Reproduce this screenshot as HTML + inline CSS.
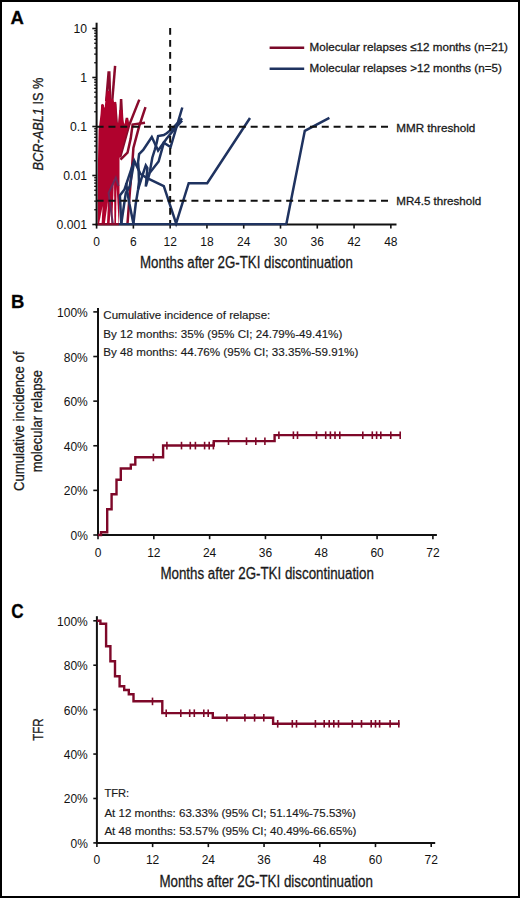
<!DOCTYPE html>
<html><head><meta charset="utf-8"><title>Figure</title>
<style>
html,body{margin:0;padding:0;background:#fff;width:520px;height:898px;overflow:hidden;}
svg{display:block;}
text{font-family:"Liberation Sans", sans-serif;stroke:#1a1a1a;stroke-width:0.3px;}
text.n{stroke:none;fill:#111;}
text.i{stroke-width:0.15px;}
</style></head><body>
<svg width="520" height="898" viewBox="0 0 520 898">
<rect x="0" y="0" width="520" height="898" fill="#fff"/>
<polyline points="139.30,99.60 128.90,125.80 120.10,157.50" fill="none" stroke="#8a0a2c" stroke-width="2.5" stroke-linejoin="miter" stroke-linecap="butt" />
<polyline points="145.00,122.70 132.60,124.60 130.70,138.60 127.50,152.70 120.50,159.70" fill="none" stroke="#8a0a2c" stroke-width="2.5" stroke-linejoin="miter" stroke-linecap="butt" />
<polyline points="145.50,107.10 139.20,126.20 133.40,148.00 132.20,165.00 130.00,190.00 127.50,223.50" fill="none" stroke="#8a0a2c" stroke-width="2.5" stroke-linejoin="miter" stroke-linecap="butt" />
<polyline points="100.80,150.00 102.60,104.50 104.20,125.00" fill="none" stroke="#8a0a2c" stroke-width="2.5" stroke-linejoin="miter" stroke-linecap="butt" />
<polyline points="106.20,101.00 108.60,72.60 109.30,72.60 110.20,101.00" fill="none" stroke="#8a0a2c" stroke-width="2.5" stroke-linejoin="miter" stroke-linecap="butt" />
<polyline points="111.50,110.00 115.10,65.80" fill="none" stroke="#8a0a2c" stroke-width="2.5" stroke-linejoin="miter" stroke-linecap="butt" />
<polyline points="113.20,135.00 115.00,102.20 116.80,125.00" fill="none" stroke="#8a0a2c" stroke-width="2.5" stroke-linejoin="miter" stroke-linecap="butt" />
<polyline points="118.60,155.00 121.10,99.00 122.40,125.00" fill="none" stroke="#8a0a2c" stroke-width="2.5" stroke-linejoin="miter" stroke-linecap="butt" />
<polyline points="123.50,140.00 126.90,118.00 128.40,127.00" fill="none" stroke="#8a0a2c" stroke-width="2.5" stroke-linejoin="miter" stroke-linecap="butt" />
<polygon points="97.7,224.5 97.8,185 98.0,160 98.6,130 99.6,122 100.5,115 101.2,105 102.4,103.8 103.6,105.5 104.6,108 105.6,99 106.6,91 109.9,91 110.8,99 113.0,99 114.2,102.5 115.2,101.6 116.3,104 116.8,121.5 118.0,123.5 119.3,110 122.6,110 123.2,120 124.3,124.5 126.0,119 127.2,118 128.2,120 128.6,125.5 119.9,157.0 119.5,158 119.5,200 119.0,224.5" fill="#b0022d"/>
<polygon points="99.2,223.2 101.6,223.2 102.6,206" fill="#fff"/>
<polygon points="104.9,223.2 107.0,223.2 108.0,201" fill="#fff"/>
<polygon points="109.6,223.2 111.4,223.2 111.0,205" fill="#fff"/>
<polygon points="112.2,223.2 114.4,223.2 114.0,179" fill="#fff"/>
<polygon points="116.0,223.2 118.6,223.2 116.6,186" fill="#fff"/>
<polyline points="112.80,223.50 108.60,193.00 115.80,177.70 118.50,186.00" fill="none" stroke="#6a2a5a" stroke-width="2.0" stroke-linejoin="miter" stroke-linecap="butt" />
<polyline points="121.30,223.50 119.90,195.50 124.50,189.50 134.20,160.60 140.50,174.00 146.70,177.90 163.80,186.20 176.10,223.40 188.70,183.20 207.20,183.20 250.00,118.00" fill="none" stroke="#1f3360" stroke-width="2.5" stroke-linejoin="miter" stroke-linecap="butt" />
<polyline points="121.30,223.50 125.80,193.00 129.70,186.50 134.20,161.50" fill="none" stroke="#1f3360" stroke-width="2.5" stroke-linejoin="miter" stroke-linecap="butt" />
<polyline points="133.40,223.50 135.70,204.00 138.10,189.40 139.00,181.70 138.60,169.50 138.10,162.10 139.10,154.00 143.20,150.00 151.80,137.00 158.10,150.50 166.70,138.50 176.30,126.90 182.10,120.70" fill="none" stroke="#1f3360" stroke-width="2.5" stroke-linejoin="miter" stroke-linecap="butt" />
<polyline points="133.40,223.50 129.40,203.80 127.00,190.00 126.20,183.00" fill="none" stroke="#1f3360" stroke-width="2.5" stroke-linejoin="miter" stroke-linecap="butt" />
<polyline points="138.10,189.40 142.90,174.00 145.80,165.40 147.40,168.00 145.80,186.50 149.60,173.10 158.60,161.50 163.80,142.80 170.60,147.10 182.30,107.50" fill="none" stroke="#1f3360" stroke-width="2.5" stroke-linejoin="miter" stroke-linecap="butt" />
<polyline points="149.60,173.10 152.30,157.70 154.70,150.00 156.60,143.30 158.10,136.10 163.80,135.10 166.70,133.20 171.10,129.80 182.10,118.30" fill="none" stroke="#1f3360" stroke-width="2.5" stroke-linejoin="miter" stroke-linecap="butt" />
<polyline points="286.30,224.20 304.80,130.80 329.40,117.80" fill="none" stroke="#1f3360" stroke-width="2.5" stroke-linejoin="miter" stroke-linecap="butt" />
<line x1="96.60" y1="126.85" x2="388.50" y2="126.85" stroke="#111" stroke-width="2" stroke-dasharray="7 4.85"/>
<line x1="96.60" y1="200.80" x2="388.50" y2="200.80" stroke="#111" stroke-width="2" stroke-dasharray="7 4.85"/>
<line x1="170.16" y1="28.00" x2="170.16" y2="224.50" stroke="#111" stroke-width="2" stroke-dasharray="6.8 5.2"/>
<line x1="96.60" y1="22.70" x2="96.60" y2="225.50" stroke="#111" stroke-width="2" />
<line x1="95.60" y1="224.50" x2="396.50" y2="224.50" stroke="#111" stroke-width="2" />
<line x1="92.30" y1="224.50" x2="96.60" y2="224.50" stroke="#111" stroke-width="1.6" />
<line x1="94.20" y1="209.75" x2="96.60" y2="209.75" stroke="#111" stroke-width="1.3" />
<line x1="94.20" y1="201.12" x2="96.60" y2="201.12" stroke="#111" stroke-width="1.3" />
<line x1="94.20" y1="195.00" x2="96.60" y2="195.00" stroke="#111" stroke-width="1.3" />
<line x1="94.20" y1="190.25" x2="96.60" y2="190.25" stroke="#111" stroke-width="1.3" />
<line x1="94.20" y1="186.37" x2="96.60" y2="186.37" stroke="#111" stroke-width="1.3" />
<line x1="94.20" y1="183.09" x2="96.60" y2="183.09" stroke="#111" stroke-width="1.3" />
<line x1="94.20" y1="180.25" x2="96.60" y2="180.25" stroke="#111" stroke-width="1.3" />
<line x1="94.20" y1="177.74" x2="96.60" y2="177.74" stroke="#111" stroke-width="1.3" />
<line x1="92.30" y1="175.50" x2="96.60" y2="175.50" stroke="#111" stroke-width="1.6" />
<line x1="94.20" y1="160.75" x2="96.60" y2="160.75" stroke="#111" stroke-width="1.3" />
<line x1="94.20" y1="152.12" x2="96.60" y2="152.12" stroke="#111" stroke-width="1.3" />
<line x1="94.20" y1="146.00" x2="96.60" y2="146.00" stroke="#111" stroke-width="1.3" />
<line x1="94.20" y1="141.25" x2="96.60" y2="141.25" stroke="#111" stroke-width="1.3" />
<line x1="94.20" y1="137.37" x2="96.60" y2="137.37" stroke="#111" stroke-width="1.3" />
<line x1="94.20" y1="134.09" x2="96.60" y2="134.09" stroke="#111" stroke-width="1.3" />
<line x1="94.20" y1="131.25" x2="96.60" y2="131.25" stroke="#111" stroke-width="1.3" />
<line x1="94.20" y1="128.74" x2="96.60" y2="128.74" stroke="#111" stroke-width="1.3" />
<line x1="92.30" y1="126.50" x2="96.60" y2="126.50" stroke="#111" stroke-width="1.6" />
<line x1="94.20" y1="111.75" x2="96.60" y2="111.75" stroke="#111" stroke-width="1.3" />
<line x1="94.20" y1="103.12" x2="96.60" y2="103.12" stroke="#111" stroke-width="1.3" />
<line x1="94.20" y1="97.00" x2="96.60" y2="97.00" stroke="#111" stroke-width="1.3" />
<line x1="94.20" y1="92.25" x2="96.60" y2="92.25" stroke="#111" stroke-width="1.3" />
<line x1="94.20" y1="88.37" x2="96.60" y2="88.37" stroke="#111" stroke-width="1.3" />
<line x1="94.20" y1="85.09" x2="96.60" y2="85.09" stroke="#111" stroke-width="1.3" />
<line x1="94.20" y1="82.25" x2="96.60" y2="82.25" stroke="#111" stroke-width="1.3" />
<line x1="94.20" y1="79.74" x2="96.60" y2="79.74" stroke="#111" stroke-width="1.3" />
<line x1="92.30" y1="77.50" x2="96.60" y2="77.50" stroke="#111" stroke-width="1.6" />
<line x1="94.20" y1="62.75" x2="96.60" y2="62.75" stroke="#111" stroke-width="1.3" />
<line x1="94.20" y1="54.12" x2="96.60" y2="54.12" stroke="#111" stroke-width="1.3" />
<line x1="94.20" y1="48.00" x2="96.60" y2="48.00" stroke="#111" stroke-width="1.3" />
<line x1="94.20" y1="43.25" x2="96.60" y2="43.25" stroke="#111" stroke-width="1.3" />
<line x1="94.20" y1="39.37" x2="96.60" y2="39.37" stroke="#111" stroke-width="1.3" />
<line x1="94.20" y1="36.09" x2="96.60" y2="36.09" stroke="#111" stroke-width="1.3" />
<line x1="94.20" y1="33.25" x2="96.60" y2="33.25" stroke="#111" stroke-width="1.3" />
<line x1="94.20" y1="30.74" x2="96.60" y2="30.74" stroke="#111" stroke-width="1.3" />
<line x1="92.30" y1="28.50" x2="96.60" y2="28.50" stroke="#111" stroke-width="1.6" />
<text x="87.00" y="228.90" font-size="12.2" class="n" text-anchor="end" fill="#1a1a1a" >0.001</text>
<text x="87.00" y="179.90" font-size="12.2" class="n" text-anchor="end" fill="#1a1a1a" >0.01</text>
<text x="87.00" y="130.90" font-size="12.2" class="n" text-anchor="end" fill="#1a1a1a" >0.1</text>
<text x="87.00" y="81.90" font-size="12.2" class="n" text-anchor="end" fill="#1a1a1a" >1</text>
<text x="87.00" y="32.90" font-size="12.2" class="n" text-anchor="end" fill="#1a1a1a" >10</text>
<line x1="96.60" y1="224.50" x2="96.60" y2="228.60" stroke="#111" stroke-width="1.6" />
<text x="96.60" y="246.00" font-size="12" class="n" text-anchor="middle" fill="#1a1a1a" >0</text>
<line x1="133.38" y1="224.50" x2="133.38" y2="228.60" stroke="#111" stroke-width="1.6" />
<text x="133.38" y="246.00" font-size="12" class="n" text-anchor="middle" fill="#1a1a1a" >6</text>
<line x1="170.16" y1="224.50" x2="170.16" y2="228.60" stroke="#111" stroke-width="1.6" />
<text x="170.16" y="246.00" font-size="12" class="n" text-anchor="middle" fill="#1a1a1a" >12</text>
<line x1="206.94" y1="224.50" x2="206.94" y2="228.60" stroke="#111" stroke-width="1.6" />
<text x="206.94" y="246.00" font-size="12" class="n" text-anchor="middle" fill="#1a1a1a" >18</text>
<line x1="243.72" y1="224.50" x2="243.72" y2="228.60" stroke="#111" stroke-width="1.6" />
<text x="243.72" y="246.00" font-size="12" class="n" text-anchor="middle" fill="#1a1a1a" >24</text>
<line x1="280.50" y1="224.50" x2="280.50" y2="228.60" stroke="#111" stroke-width="1.6" />
<text x="280.50" y="246.00" font-size="12" class="n" text-anchor="middle" fill="#1a1a1a" >30</text>
<line x1="317.28" y1="224.50" x2="317.28" y2="228.60" stroke="#111" stroke-width="1.6" />
<text x="317.28" y="246.00" font-size="12" class="n" text-anchor="middle" fill="#1a1a1a" >36</text>
<line x1="354.06" y1="224.50" x2="354.06" y2="228.60" stroke="#111" stroke-width="1.6" />
<text x="354.06" y="246.00" font-size="12" class="n" text-anchor="middle" fill="#1a1a1a" >42</text>
<line x1="390.84" y1="224.50" x2="390.84" y2="228.60" stroke="#111" stroke-width="1.6" />
<text x="390.84" y="246.00" font-size="12" class="n" text-anchor="middle" fill="#1a1a1a" >48</text>
<text x="140.00" y="267.90" font-size="16" textLength="212.80" lengthAdjust="spacingAndGlyphs" fill="#1a1a1a" >Months after 2G-TKI discontinuation</text>
<text transform="translate(42.9,124) rotate(-90)" font-size="15.5" text-anchor="middle" fill="#1a1a1a" textLength="92.9" lengthAdjust="spacingAndGlyphs"><tspan font-style="italic">BCR-ABL1</tspan> IS %</text>
<text x="10.60" y="24.10" font-size="18.5" font-weight="bold" fill="#000" >A</text>
<line x1="269.60" y1="47.70" x2="304.20" y2="47.70" stroke="#7a0a29" stroke-width="2.4" />
<line x1="269.60" y1="68.70" x2="304.20" y2="68.70" stroke="#1f3360" stroke-width="2.4" />
<text x="309.50" y="51.30" font-size="11.5" textLength="198.50" lengthAdjust="spacingAndGlyphs" fill="#1a1a1a" >Molecular relapses ≤12 months (n=21)</text>
<text x="309.50" y="72.30" font-size="11.5" textLength="192.30" lengthAdjust="spacingAndGlyphs" fill="#1a1a1a" >Molecular relapses &gt;12 months (n=5)</text>
<text x="396.30" y="132.20" font-size="11.5" textLength="79.00" lengthAdjust="spacingAndGlyphs" fill="#1a1a1a" >MMR threshold</text>
<text x="396.30" y="205.20" font-size="11.5" textLength="84.90" lengthAdjust="spacingAndGlyphs" fill="#1a1a1a" >MR4.5 threshold</text>
<line x1="97.60" y1="224.20" x2="119.00" y2="224.20" stroke="#8a0a2c" stroke-width="2.3" />
<line x1="118.80" y1="224.20" x2="287.00" y2="224.20" stroke="#1f3360" stroke-width="2.3" />
<line x1="98.00" y1="308.00" x2="98.00" y2="536.00" stroke="#111" stroke-width="2" />
<line x1="97.00" y1="535.00" x2="436.90" y2="535.00" stroke="#111" stroke-width="2" />
<line x1="93.30" y1="535.00" x2="98.00" y2="535.00" stroke="#111" stroke-width="1.6" />
<text x="87.80" y="540.00" font-size="12" class="n" text-anchor="end" fill="#1a1a1a" >0%</text>
<line x1="93.30" y1="490.38" x2="98.00" y2="490.38" stroke="#111" stroke-width="1.6" />
<text x="87.80" y="495.38" font-size="12" class="n" text-anchor="end" fill="#1a1a1a" >20%</text>
<line x1="93.30" y1="445.76" x2="98.00" y2="445.76" stroke="#111" stroke-width="1.6" />
<text x="87.80" y="450.76" font-size="12" class="n" text-anchor="end" fill="#1a1a1a" >40%</text>
<line x1="93.30" y1="401.14" x2="98.00" y2="401.14" stroke="#111" stroke-width="1.6" />
<text x="87.80" y="406.14" font-size="12" class="n" text-anchor="end" fill="#1a1a1a" >60%</text>
<line x1="93.30" y1="356.52" x2="98.00" y2="356.52" stroke="#111" stroke-width="1.6" />
<text x="87.80" y="361.52" font-size="12" class="n" text-anchor="end" fill="#1a1a1a" >80%</text>
<line x1="93.30" y1="311.90" x2="98.00" y2="311.90" stroke="#111" stroke-width="1.6" />
<text x="87.80" y="316.90" font-size="12" class="n" text-anchor="end" fill="#1a1a1a" >100%</text>
<line x1="98.00" y1="535.00" x2="98.00" y2="539.20" stroke="#111" stroke-width="1.6" />
<text x="98.00" y="556.50" font-size="12" class="n" text-anchor="middle" fill="#1a1a1a" >0</text>
<line x1="153.82" y1="535.00" x2="153.82" y2="539.20" stroke="#111" stroke-width="1.6" />
<text x="153.82" y="556.50" font-size="12" class="n" text-anchor="middle" fill="#1a1a1a" >12</text>
<line x1="209.63" y1="535.00" x2="209.63" y2="539.20" stroke="#111" stroke-width="1.6" />
<text x="209.63" y="556.50" font-size="12" class="n" text-anchor="middle" fill="#1a1a1a" >24</text>
<line x1="265.45" y1="535.00" x2="265.45" y2="539.20" stroke="#111" stroke-width="1.6" />
<text x="265.45" y="556.50" font-size="12" class="n" text-anchor="middle" fill="#1a1a1a" >36</text>
<line x1="321.27" y1="535.00" x2="321.27" y2="539.20" stroke="#111" stroke-width="1.6" />
<text x="321.27" y="556.50" font-size="12" class="n" text-anchor="middle" fill="#1a1a1a" >48</text>
<line x1="377.08" y1="535.00" x2="377.08" y2="539.20" stroke="#111" stroke-width="1.6" />
<text x="377.08" y="556.50" font-size="12" class="n" text-anchor="middle" fill="#1a1a1a" >60</text>
<line x1="432.90" y1="535.00" x2="432.90" y2="539.20" stroke="#111" stroke-width="1.6" />
<text x="432.90" y="556.50" font-size="12" class="n" text-anchor="middle" fill="#1a1a1a" >72</text>
<text x="160.40" y="578.50" font-size="16" textLength="213.50" lengthAdjust="spacingAndGlyphs" fill="#1a1a1a" >Months after 2G-TKI discontinuation</text>
<path d="M98,535 H101 V532.3 H107.2 V509.2 H111.6 V494.2 H116.5 V479.7 H120.8 V468.5 H130.8 V464.6 H135.3 V457.3 H163.1 V445.5 H213.8 V441.1 H274.6 V435.1 H400.6" fill="none" stroke="#7e0829" stroke-width="2.4" stroke-linejoin="miter"/>
<line x1="153.40" y1="453.60" x2="153.40" y2="461.20" stroke="#7e0829" stroke-width="1.6" />
<line x1="166.90" y1="441.80" x2="166.90" y2="449.40" stroke="#7e0829" stroke-width="1.6" />
<line x1="181.50" y1="441.80" x2="181.50" y2="449.40" stroke="#7e0829" stroke-width="1.6" />
<line x1="190.30" y1="441.80" x2="190.30" y2="449.40" stroke="#7e0829" stroke-width="1.6" />
<line x1="195.40" y1="441.80" x2="195.40" y2="449.40" stroke="#7e0829" stroke-width="1.6" />
<line x1="204.60" y1="441.80" x2="204.60" y2="449.40" stroke="#7e0829" stroke-width="1.6" />
<line x1="209.20" y1="441.80" x2="209.20" y2="449.40" stroke="#7e0829" stroke-width="1.6" />
<line x1="213.40" y1="441.80" x2="213.40" y2="449.40" stroke="#7e0829" stroke-width="1.6" />
<line x1="228.50" y1="437.40" x2="228.50" y2="445.00" stroke="#7e0829" stroke-width="1.6" />
<line x1="246.50" y1="437.40" x2="246.50" y2="445.00" stroke="#7e0829" stroke-width="1.6" />
<line x1="255.80" y1="437.40" x2="255.80" y2="445.00" stroke="#7e0829" stroke-width="1.6" />
<line x1="264.90" y1="437.40" x2="264.90" y2="445.00" stroke="#7e0829" stroke-width="1.6" />
<line x1="278.90" y1="431.40" x2="278.90" y2="439.00" stroke="#7e0829" stroke-width="1.6" />
<line x1="293.40" y1="431.40" x2="293.40" y2="439.00" stroke="#7e0829" stroke-width="1.6" />
<line x1="297.50" y1="431.40" x2="297.50" y2="439.00" stroke="#7e0829" stroke-width="1.6" />
<line x1="316.50" y1="431.40" x2="316.50" y2="439.00" stroke="#7e0829" stroke-width="1.6" />
<line x1="325.70" y1="431.40" x2="325.70" y2="439.00" stroke="#7e0829" stroke-width="1.6" />
<line x1="330.40" y1="431.40" x2="330.40" y2="439.00" stroke="#7e0829" stroke-width="1.6" />
<line x1="335.00" y1="431.40" x2="335.00" y2="439.00" stroke="#7e0829" stroke-width="1.6" />
<line x1="339.80" y1="431.40" x2="339.80" y2="439.00" stroke="#7e0829" stroke-width="1.6" />
<line x1="362.80" y1="431.40" x2="362.80" y2="439.00" stroke="#7e0829" stroke-width="1.6" />
<line x1="372.30" y1="431.40" x2="372.30" y2="439.00" stroke="#7e0829" stroke-width="1.6" />
<line x1="376.60" y1="431.40" x2="376.60" y2="439.00" stroke="#7e0829" stroke-width="1.6" />
<line x1="380.80" y1="431.40" x2="380.80" y2="439.00" stroke="#7e0829" stroke-width="1.6" />
<line x1="390.80" y1="431.40" x2="390.80" y2="439.00" stroke="#7e0829" stroke-width="1.6" />
<line x1="400.20" y1="431.40" x2="400.20" y2="439.00" stroke="#7e0829" stroke-width="1.6" />
<text x="11.00" y="307.70" font-size="18.5" font-weight="bold" fill="#000" >B</text>
<text x="103.30" y="319.20" font-size="11" class="i" textLength="167.00" lengthAdjust="spacingAndGlyphs" fill="#1a1a1a" >Cumulative incidence of relapse:</text>
<text x="103.30" y="337.70" font-size="11" class="i" textLength="239.00" lengthAdjust="spacingAndGlyphs" fill="#1a1a1a" >By 12 months: 35% (95% CI; 24.79%-49.41%)</text>
<text x="103.30" y="356.30" font-size="11" class="i" textLength="255.00" lengthAdjust="spacingAndGlyphs" fill="#1a1a1a" >By 48 months: 44.76% (95% CI; 33.35%-59.91%)</text>
<text transform="translate(23.8,421.2) rotate(-90)" font-size="15" text-anchor="middle" fill="#1a1a1a" textLength="139.5" lengthAdjust="spacingAndGlyphs">Cumulative incidence of</text>
<text transform="translate(42.0,421.1) rotate(-90)" font-size="15" text-anchor="middle" fill="#1a1a1a" textLength="102.2" lengthAdjust="spacingAndGlyphs">molecular relapse</text>
<line x1="96.90" y1="616.20" x2="96.90" y2="843.90" stroke="#111" stroke-width="2" />
<line x1="95.90" y1="842.90" x2="435.20" y2="842.90" stroke="#111" stroke-width="2" />
<line x1="93.30" y1="842.90" x2="96.90" y2="842.90" stroke="#111" stroke-width="1.6" />
<text x="87.80" y="847.90" font-size="12" class="n" text-anchor="end" fill="#1a1a1a" >0%</text>
<line x1="93.30" y1="798.48" x2="96.90" y2="798.48" stroke="#111" stroke-width="1.6" />
<text x="87.80" y="803.48" font-size="12" class="n" text-anchor="end" fill="#1a1a1a" >20%</text>
<line x1="93.30" y1="754.06" x2="96.90" y2="754.06" stroke="#111" stroke-width="1.6" />
<text x="87.80" y="759.06" font-size="12" class="n" text-anchor="end" fill="#1a1a1a" >40%</text>
<line x1="93.30" y1="709.64" x2="96.90" y2="709.64" stroke="#111" stroke-width="1.6" />
<text x="87.80" y="714.64" font-size="12" class="n" text-anchor="end" fill="#1a1a1a" >60%</text>
<line x1="93.30" y1="665.22" x2="96.90" y2="665.22" stroke="#111" stroke-width="1.6" />
<text x="87.80" y="670.22" font-size="12" class="n" text-anchor="end" fill="#1a1a1a" >80%</text>
<line x1="93.30" y1="620.80" x2="96.90" y2="620.80" stroke="#111" stroke-width="1.6" />
<text x="87.80" y="625.80" font-size="12" class="n" text-anchor="end" fill="#1a1a1a" >100%</text>
<line x1="96.90" y1="842.90" x2="96.90" y2="847.10" stroke="#111" stroke-width="1.6" />
<text x="96.90" y="863.80" font-size="12" class="n" text-anchor="middle" fill="#1a1a1a" >0</text>
<line x1="152.62" y1="842.90" x2="152.62" y2="847.10" stroke="#111" stroke-width="1.6" />
<text x="152.62" y="863.80" font-size="12" class="n" text-anchor="middle" fill="#1a1a1a" >12</text>
<line x1="208.33" y1="842.90" x2="208.33" y2="847.10" stroke="#111" stroke-width="1.6" />
<text x="208.33" y="863.80" font-size="12" class="n" text-anchor="middle" fill="#1a1a1a" >24</text>
<line x1="264.05" y1="842.90" x2="264.05" y2="847.10" stroke="#111" stroke-width="1.6" />
<text x="264.05" y="863.80" font-size="12" class="n" text-anchor="middle" fill="#1a1a1a" >36</text>
<line x1="319.77" y1="842.90" x2="319.77" y2="847.10" stroke="#111" stroke-width="1.6" />
<text x="319.77" y="863.80" font-size="12" class="n" text-anchor="middle" fill="#1a1a1a" >48</text>
<line x1="375.48" y1="842.90" x2="375.48" y2="847.10" stroke="#111" stroke-width="1.6" />
<text x="375.48" y="863.80" font-size="12" class="n" text-anchor="middle" fill="#1a1a1a" >60</text>
<line x1="431.20" y1="842.90" x2="431.20" y2="847.10" stroke="#111" stroke-width="1.6" />
<text x="431.20" y="863.80" font-size="12" class="n" text-anchor="middle" fill="#1a1a1a" >72</text>
<text x="159.40" y="886.60" font-size="16" textLength="213.50" lengthAdjust="spacingAndGlyphs" fill="#1a1a1a" >Months after 2G-TKI discontinuation</text>
<path d="M96.9,620.8 H100.4 V623.8 H106.1 V646.2 H110.4 V661.2 H115 V676.2 H119.6 V686.2 H124.2 V690 H128.8 V694.3 H133.5 V701.3 H162.3 V713.1 H212.8 V717.7 H273.1 V723.7 H399.6" fill="none" stroke="#7e0829" stroke-width="2.4" stroke-linejoin="miter"/>
<line x1="152.50" y1="697.60" x2="152.50" y2="705.20" stroke="#7e0829" stroke-width="1.6" />
<line x1="166.20" y1="709.40" x2="166.20" y2="717.00" stroke="#7e0829" stroke-width="1.6" />
<line x1="180.80" y1="709.40" x2="180.80" y2="717.00" stroke="#7e0829" stroke-width="1.6" />
<line x1="189.70" y1="709.40" x2="189.70" y2="717.00" stroke="#7e0829" stroke-width="1.6" />
<line x1="194.30" y1="709.40" x2="194.30" y2="717.00" stroke="#7e0829" stroke-width="1.6" />
<line x1="203.80" y1="709.40" x2="203.80" y2="717.00" stroke="#7e0829" stroke-width="1.6" />
<line x1="208.20" y1="709.40" x2="208.20" y2="717.00" stroke="#7e0829" stroke-width="1.6" />
<line x1="226.90" y1="714.00" x2="226.90" y2="721.60" stroke="#7e0829" stroke-width="1.6" />
<line x1="244.90" y1="714.00" x2="244.90" y2="721.60" stroke="#7e0829" stroke-width="1.6" />
<line x1="254.60" y1="714.00" x2="254.60" y2="721.60" stroke="#7e0829" stroke-width="1.6" />
<line x1="263.80" y1="714.00" x2="263.80" y2="721.60" stroke="#7e0829" stroke-width="1.6" />
<line x1="277.70" y1="720.00" x2="277.70" y2="727.60" stroke="#7e0829" stroke-width="1.6" />
<line x1="292.30" y1="720.00" x2="292.30" y2="727.60" stroke="#7e0829" stroke-width="1.6" />
<line x1="296.50" y1="720.00" x2="296.50" y2="727.60" stroke="#7e0829" stroke-width="1.6" />
<line x1="315.40" y1="720.00" x2="315.40" y2="727.60" stroke="#7e0829" stroke-width="1.6" />
<line x1="324.20" y1="720.00" x2="324.20" y2="727.60" stroke="#7e0829" stroke-width="1.6" />
<line x1="329.20" y1="720.00" x2="329.20" y2="727.60" stroke="#7e0829" stroke-width="1.6" />
<line x1="333.80" y1="720.00" x2="333.80" y2="727.60" stroke="#7e0829" stroke-width="1.6" />
<line x1="338.50" y1="720.00" x2="338.50" y2="727.60" stroke="#7e0829" stroke-width="1.6" />
<line x1="352.30" y1="720.00" x2="352.30" y2="727.60" stroke="#7e0829" stroke-width="1.6" />
<line x1="361.50" y1="720.00" x2="361.50" y2="727.60" stroke="#7e0829" stroke-width="1.6" />
<line x1="371.20" y1="720.00" x2="371.20" y2="727.60" stroke="#7e0829" stroke-width="1.6" />
<line x1="375.50" y1="720.00" x2="375.50" y2="727.60" stroke="#7e0829" stroke-width="1.6" />
<line x1="379.60" y1="720.00" x2="379.60" y2="727.60" stroke="#7e0829" stroke-width="1.6" />
<line x1="390.10" y1="720.00" x2="390.10" y2="727.60" stroke="#7e0829" stroke-width="1.6" />
<line x1="398.80" y1="720.00" x2="398.80" y2="727.60" stroke="#7e0829" stroke-width="1.6" />
<text x="11.30" y="617.50" font-size="19.5" textLength="12.40" lengthAdjust="spacingAndGlyphs" font-weight="bold" fill="#000" >C</text>
<text x="104.40" y="797.30" font-size="11" class="i" textLength="24.80" lengthAdjust="spacingAndGlyphs" fill="#1a1a1a" >TFR:</text>
<text x="104.40" y="816.50" font-size="11" class="i" textLength="251.50" lengthAdjust="spacingAndGlyphs" fill="#1a1a1a" >At 12 months: 63.33% (95% CI; 51.14%-75.53%)</text>
<text x="104.40" y="835.00" font-size="11" class="i" textLength="252.00" lengthAdjust="spacingAndGlyphs" fill="#1a1a1a" >At 48 months: 53.57% (95% CI; 40.49%-66.65%)</text>
<text transform="translate(43.0,729.6) rotate(-90)" font-size="15" text-anchor="middle" fill="#1a1a1a" textLength="22.3" lengthAdjust="spacingAndGlyphs">TFR</text>
<rect x="1" y="1" width="518" height="896" fill="none" stroke="#000" stroke-width="2"/>
</svg>
</body></html>
